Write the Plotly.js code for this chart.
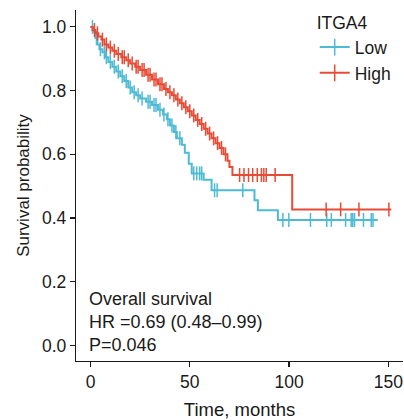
<!DOCTYPE html>
<html>
<head>
<meta charset="utf-8">
<script src="https://cdn.plot.ly/plotly-3.0.1.min.js"></script>
<style>html,body{margin:0;padding:0;background:#fff;}#chart{width:404px;height:420px;}</style>
</head>
<body>
<div id="chart"></div>
<script>
// Low ITGA4 group (Kaplan-Meier steps)
const lowTimes = [0, 1.5, 2.5, 3.5, 4.5, 6, 7.5, 9, 11, 13, 15, 17, 19, 21, 23, 25, 28, 31, 34, 36.5, 38.5, 40, 42, 43.5, 46, 47.5, 49.5, 51, 57, 61, 82.6, 84.3, 94.4, 144.7];
const lowSurv  = [1.0, 0.985, 0.965, 0.945, 0.93, 0.92, 0.905, 0.89, 0.875, 0.86, 0.845, 0.83, 0.81, 0.795, 0.785, 0.775, 0.765, 0.755, 0.74, 0.725, 0.71, 0.69, 0.67, 0.65, 0.63, 0.605, 0.57, 0.54, 0.52, 0.487, 0.456, 0.424, 0.394, 0.394];
const lowCensor = [1, 3, 5, 7, 8, 10, 12, 14, 16, 18, 20, 22, 24, 26, 29, 30, 32, 33, 35, 37, 39, 41, 43, 45, 52, 53.5, 55, 56, 62.5, 63.8, 76.7, 96.9, 99.9, 110.8, 119, 121.3, 128.5, 131.3, 132.1, 133, 137.5, 141.4, 142.3];

// High ITGA4 group
const highTimes = [0, 1, 2.5, 4, 5.5, 7, 9, 11, 13, 15.5, 18, 20, 22.5, 25, 28, 31, 34, 37, 39, 41, 43, 45, 47, 49, 51, 53, 55, 57, 59, 61, 63, 65, 67, 69, 70, 71.5, 101.6, 151.5];
const highSurv  = [1.0, 0.99, 0.98, 0.97, 0.96, 0.945, 0.935, 0.925, 0.915, 0.905, 0.895, 0.885, 0.875, 0.865, 0.85, 0.835, 0.82, 0.805, 0.795, 0.785, 0.772, 0.76, 0.748, 0.735, 0.722, 0.708, 0.695, 0.68, 0.665, 0.65, 0.635, 0.62, 0.60, 0.58, 0.56, 0.535, 0.427, 0.427];
const highCensor = [2, 3.5, 6, 8, 10, 12, 14, 16, 17, 19, 21, 23, 24, 26, 27, 29, 30, 32, 33, 35, 36, 38, 40, 42, 44, 46, 48, 50, 52, 54, 56, 58, 60, 62, 64, 66, 68, 75.1, 77.3, 79.6, 81.7, 84, 86.1, 87.3, 88.5, 93.0, 118.7, 126, 135.2, 150.3];

const groupNames = ["Low", "High"];
const groupColors = ["#4DBBD5", "#E64B35"];
const legendTitle = "ITGA4";
const annotationLines = ["Overall survival", "HR =0.69 (0.48\u20130.99)", "P=0.046"];
const xTicks = [0, 50, 100, 150];
const yTicks = [0.0, 0.2, 0.4, 0.6, 0.8, 1.0];

function survAt(times, surv, t) {
  let s = surv[0];
  for (let i = 0; i < times.length; i++) { if (times[i] <= t) s = surv[i]; else break; }
  return s;
}

const groups = [
  {times: lowTimes, surv: lowSurv, censor: lowCensor},
  {times: highTimes, surv: highSurv, censor: highCensor}
];

const traces = [];
groups.forEach((g, i) => {
  traces.push({
    x: g.times, y: g.surv, type: 'scatter', mode: 'lines',
    line: {shape: 'hv', color: groupColors[i], width: 2},
    showlegend: false, hoverinfo: 'skip'
  });
  traces.push({
    x: g.censor, y: g.censor.map(t => survAt(g.times, g.surv, t)),
    type: 'scatter', mode: 'markers',
    marker: {symbol: 'line-ns-open', size: 10, color: groupColors[i], line: {color: groupColors[i], width: 1.5}},
    showlegend: false, hoverinfo: 'skip'
  });
});
groups.forEach((g, i) => {
  traces.push({
    x: [null], y: [null], type: 'scatter', mode: 'lines+markers', name: groupNames[i],
    line: {color: groupColors[i], width: 2},
    marker: {symbol: 'line-ns-open', size: 12, color: groupColors[i], line: {color: groupColors[i], width: 1.5}}
  });
});

const fam = '"Liberation Sans", Arial, Helvetica, sans-serif';
const font = {family: fam, size: 17.5, color: '#1a1a1a'};

const annotations = annotationLines.map((txt, k) => ({
  text: txt, xref: 'paper', yref: 'paper', x: 0.035, y: [0.176, 0.110, 0.045][k],
  xanchor: 'left', yanchor: 'middle', showarrow: false, font: {family: fam, size: 18, color: '#1a1a1a'}
}));

const layout = {
  width: 404, height: 420,
  margin: {l: 76, r: 1, t: 10, b: 59},
  paper_bgcolor: '#ffffff', plot_bgcolor: '#ffffff',
  font: font,
  showlegend: true,
  legend: {
    title: {text: legendTitle, font: font, side: 'top'},
    x: 0.73, y: 1.01, xanchor: 'left', yanchor: 'top',
    bgcolor: 'rgba(0,0,0,0)', font: font, tracegroupgap: 0, itemwidth: 30
  },
  xaxis: {
    range: [-7.3, 157.4], tickvals: xTicks, ticktext: xTicks.map(String),
    showgrid: false, zeroline: false, showline: true, linecolor: '#1a1a1a', linewidth: 1.2,
    ticks: 'outside', ticklen: 5, tickcolor: '#1a1a1a', tickwidth: 1.2,
    tickfont: font, title: {text: 'Time, months', font: {family: fam, size: 18.5, color: '#1a1a1a'}, standoff: 16}
  },
  yaxis: {
    range: [-0.049, 1.053], tickvals: yTicks, ticktext: yTicks.map(v => v.toFixed(1)),
    showgrid: false, zeroline: false, showline: true, linecolor: '#1a1a1a', linewidth: 1.2,
    ticks: 'outside', ticklen: 5, tickcolor: '#1a1a1a', tickwidth: 1.2,
    tickfont: font, title: {text: 'Survival probability', font: {family: fam, size: 17, color: '#1a1a1a'}, standoff: 8}
  },
  annotations: annotations
};

Plotly.newPlot('chart', traces, layout, {displayModeBar: false, staticPlot: true});
</script>
</body>
</html>
